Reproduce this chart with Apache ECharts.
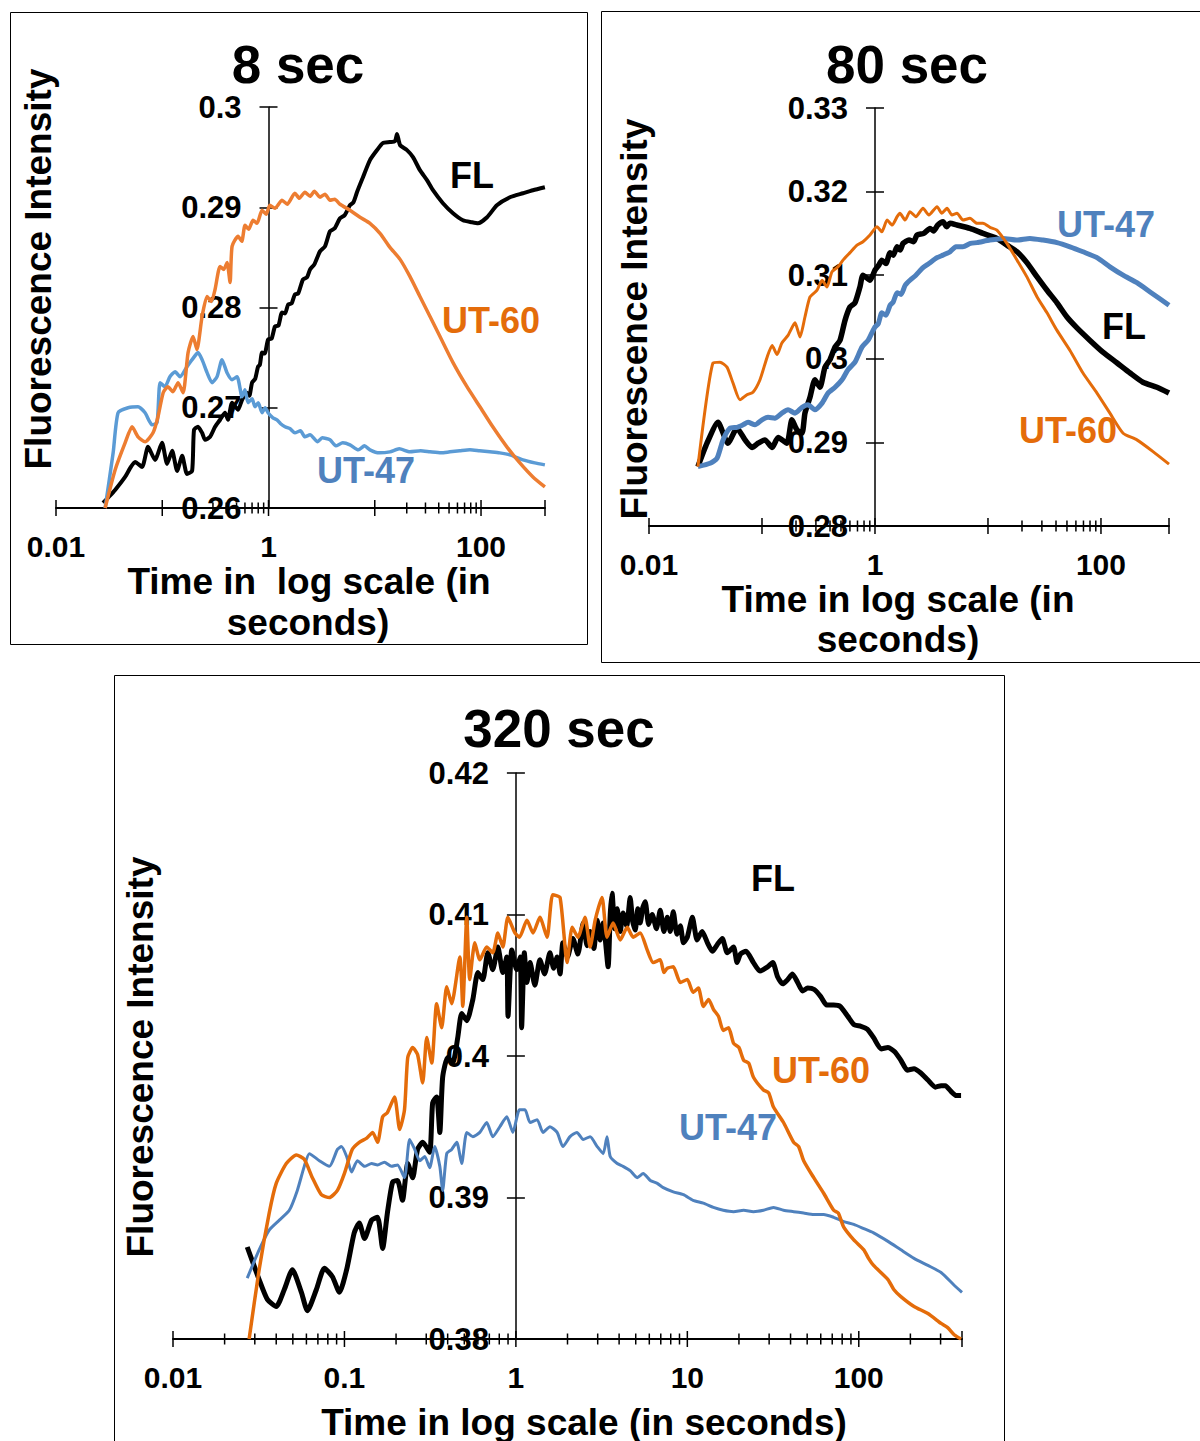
<!DOCTYPE html>
<html>
<head>
<meta charset="utf-8">
<script src="https://cdn.jsdelivr.net/npm/echarts@6/dist/echarts.min.js"></script>
<style>
  html, body { margin: 0; padding: 0; background: #fff; }
  #chart { width: 1200px; height: 1441px; }
</style>
</head>
<body>
<div id="chart"></div>
<script>
// ---- Data: [time (s), fluorescence intensity] ----

// 8 sec
const fl8 = [[0.0277,0.2605],[0.032,0.2612],[0.036,0.2618],[0.0447,0.2631],[0.050,0.2640],[0.0555,0.2646],[0.0646,0.2641],[0.0735,0.2661],[0.0855,0.2648],[0.0995,0.2665],[0.111,0.2644],[0.124,0.2657],[0.138,0.2637],[0.154,0.2652],[0.171,0.2634],[0.191,0.2637],[0.199,0.2678],[0.217,0.2681],[0.237,0.2675],[0.253,0.2668],[0.282,0.2671],[0.314,0.2681],[0.350,0.2688],[0.390,0.2695],[0.416,0.2688],[0.454,0.2705],[0.517,0.2698],[0.564,0.2708],[0.628,0.2715],[0.66,0.2712],[0.70,0.2725],[0.75,0.2729],[0.797,0.2741],[0.83,0.2743],[0.869,0.2755],[0.92,0.2754],[0.99,0.2768],[1.07,0.2769],[1.15,0.2781],[1.24,0.2782],[1.34,0.2795],[1.43,0.2794],[1.53,0.2803],[1.65,0.2804],[1.77,0.2813],[1.9,0.2814],[2.11,0.2828],[2.3,0.2830],[2.46,0.2838],[2.7,0.2843],[3.05,0.2856],[3.4,0.2861],[3.79,0.2876],[4.2,0.2879],[4.71,0.2889],[5.2,0.2892],[5.84,0.2902],[6.3,0.2905],[6.8,0.2915],[7.75,0.2930],[9.01,0.2947],[10.5,0.2957],[11.9,0.2964],[13.9,0.2965],[15.5,0.2966],[16.2,0.2973],[17.3,0.2962],[20.1,0.2957],[22.9,0.2950],[26.6,0.2937],[31.0,0.2927],[35.3,0.2917],[43.8,0.2904],[54.5,0.2894],[67.6,0.2887],[82.1,0.2885],[93.5,0.2884],[114,0.2890],[141,0.2902],[187,0.2910],[248,0.2914],[308,0.2917],[399,0.2920]];
const ut60_8 = [[0.029,0.2600],[0.036,0.2638],[0.0447,0.2665],[0.052,0.2681],[0.0592,0.2671],[0.0689,0.2666],[0.0819,0.2675],[0.0912,0.2691],[0.102,0.2715],[0.113,0.2721],[0.126,0.2716],[0.141,0.2725],[0.157,0.2715],[0.175,0.2755],[0.195,0.2771],[0.212,0.2758],[0.237,0.2791],[0.264,0.2811],[0.29,0.2806],[0.314,0.2818],[0.350,0.2841],[0.38,0.2838],[0.407,0.2845],[0.435,0.2825],[0.454,0.2861],[0.517,0.2871],[0.56,0.2866],[0.601,0.2882],[0.65,0.2878],[0.715,0.2887],[0.78,0.2884],[0.869,0.2897],[0.95,0.2893],[1.03,0.2902],[1.15,0.2899],[1.34,0.2907],[1.5,0.2903],[1.77,0.2914],[1.95,0.2909],[2.20,0.2915],[2.46,0.2911],[2.7,0.2916],[3.05,0.2910],[3.4,0.2913],[3.79,0.2907],[4.2,0.2908],[4.71,0.2903],[5.84,0.2897],[7.26,0.2890],[9.01,0.2884],[11.2,0.2874],[13.9,0.2860],[17.3,0.2848],[21.4,0.2831],[26.6,0.2811],[33.1,0.2791],[41.1,0.2771],[54.5,0.2745],[73.7,0.2721],[97.6,0.2701],[129,0.2681],[175,0.2661],[232,0.2645],[308,0.2631],[399,0.2621]];
const ut47_8 = [[0.029,0.2600],[0.0345,0.2655],[0.0384,0.2695],[0.0477,0.2700],[0.0592,0.2701],[0.0689,0.2695],[0.0802,0.2683],[0.0893,0.2685],[0.0954,0.2725],[0.106,0.2721],[0.118,0.2731],[0.132,0.2736],[0.147,0.2731],[0.171,0.2741],[0.191,0.2748],[0.217,0.2755],[0.237,0.2748],[0.264,0.2735],[0.294,0.2725],[0.328,0.2731],[0.365,0.2748],[0.407,0.2735],[0.454,0.2728],[0.506,0.2731],[0.564,0.2711],[0.60,0.2718],[0.642,0.2705],[0.70,0.2709],[0.746,0.2701],[0.80,0.2705],[0.869,0.2695],[0.93,0.2700],[0.99,0.2695],[1.1,0.2690],[1.20,0.2688],[1.3,0.2684],[1.43,0.2681],[1.6,0.2679],[1.77,0.2675],[2.0,0.2677],[2.20,0.2671],[2.46,0.2673],[2.9,0.2666],[3.2,0.2670],[3.79,0.2668],[4.3,0.2662],[5.0,0.2665],[5.84,0.2663],[7.0,0.2658],[8.0,0.2662],[9.01,0.2658],[11,0.2655],[13.9,0.2656],[17,0.2659],[21.4,0.2656],[27,0.2657],[33.1,0.2656],[42,0.2655],[51,0.2656],[63,0.2657],[78.6,0.2658],[97,0.2657],[121,0.2656],[150,0.2655],[187,0.2653],[248,0.2648],[320,0.2645],[399,0.2643]];

// 80 sec
const fl80 = [[0.0271,0.2871],[0.0326,0.2899],[0.0408,0.2924],[0.050,0.2899],[0.0601,0.2917],[0.0708,0.2903],[0.0816,0.2894],[0.0923,0.2899],[0.106,0.2903],[0.123,0.2894],[0.139,0.2906],[0.166,0.2899],[0.184,0.2927],[0.204,0.2915],[0.226,0.2911],[0.240,0.2935],[0.266,0.2954],[0.294,0.2975],[0.326,0.2966],[0.361,0.2990],[0.400,0.2999],[0.443,0.3014],[0.490,0.3022],[0.543,0.3046],[0.601,0.3062],[0.665,0.3067],[0.736,0.3086],[0.783,0.3100],[0.903,0.3094],[1.0,0.3106],[1.08,0.3112],[1.15,0.3118],[1.25,0.3114],[1.36,0.3127],[1.45,0.3124],[1.57,0.3134],[1.67,0.3130],[1.77,0.3138],[2.0,0.3142],[2.2,0.3140],[2.35,0.3148],[2.7,0.3150],[3.07,0.3156],[3.3,0.3153],[3.6,0.3160],[4.0,0.3164],[4.3,0.3158],[4.6,0.3162],[5.32,0.3160],[6.93,0.3156],[9.03,0.3150],[12.0,0.3144],[14.7,0.3136],[18.1,0.3128],[22.1,0.3115],[27.2,0.3098],[33.3,0.3082],[40.8,0.3067],[50.0,0.3050],[61.3,0.3037],[80.0,0.3022],[104,0.3008],[139,0.2995],[181,0.2983],[235,0.2972],[313,0.2966],[400,0.2959]];
const ut60_80 = [[0.0271,0.2871],[0.0368,0.2995],[0.0425,0.2996],[0.049,0.2990],[0.0554,0.2971],[0.0638,0.2951],[0.0736,0.2957],[0.0832,0.2960],[0.096,0.2975],[0.111,0.3002],[0.123,0.3016],[0.136,0.3005],[0.150,0.3019],[0.170,0.3028],[0.196,0.3043],[0.217,0.3026],[0.240,0.3050],[0.266,0.3074],[0.307,0.3082],[0.340,0.3094],[0.376,0.3086],[0.416,0.3104],[0.471,0.3110],[0.521,0.3118],[0.601,0.3127],[0.693,0.3136],[0.783,0.3140],[0.903,0.3148],[1.04,0.3158],[1.15,0.3152],[1.28,0.3166],[1.42,0.3160],[1.57,0.3170],[1.66,0.3174],[1.85,0.3166],[2.04,0.3176],[2.3,0.3170],[2.66,0.3180],[3.0,0.3172],[3.54,0.3182],[3.9,0.3174],[4.34,0.3180],[4.8,0.3172],[5.32,0.3174],[6.0,0.3166],[6.93,0.3168],[8,0.3162],[9.03,0.3162],[10.5,0.3157],[12.0,0.3154],[14.7,0.3138],[18.1,0.3118],[22.1,0.3098],[27.2,0.3074],[33.3,0.3055],[40.8,0.3034],[53.2,0.3010],[69.3,0.2983],[92.2,0.2959],[120,0.2935],[157,0.2911],[208,0.2903],[289,0.2889],[400,0.2874]];
const ut47_80 = [[0.0271,0.2871],[0.0347,0.2875],[0.040,0.2881],[0.0452,0.2903],[0.0521,0.2917],[0.0601,0.2918],[0.0679,0.2921],[0.0752,0.2924],[0.0867,0.2921],[0.10,0.2927],[0.113,0.2930],[0.130,0.2929],[0.150,0.2935],[0.170,0.2939],[0.196,0.2935],[0.226,0.2942],[0.255,0.2945],[0.294,0.2939],[0.340,0.2947],[0.384,0.2959],[0.443,0.2966],[0.511,0.2975],[0.577,0.2987],[0.665,0.2996],[0.767,0.3014],[0.867,0.3022],[0.93,0.3030],[1.0,0.3038],[1.07,0.3042],[1.15,0.3055],[1.25,0.3052],[1.36,0.3064],[1.45,0.3068],[1.57,0.3079],[1.7,0.3077],[1.85,0.3088],[2.04,0.3094],[2.3,0.3100],[2.66,0.3109],[3.0,0.3114],[3.54,0.3121],[4.0,0.3124],[4.61,0.3128],[5.2,0.3134],[6.01,0.3134],[7.0,0.3138],[8.0,0.3139],[10.4,0.3142],[13.6,0.3144],[18.1,0.3142],[23.5,0.3144],[30.7,0.3142],[40.8,0.3139],[53.2,0.3134],[69.3,0.3128],[92.2,0.3121],[120,0.3110],[157,0.3100],[208,0.3091],[272,0.3080],[400,0.3064]];

// 320 sec
const fl320 = [[0.0271,0.3865],[0.0318,0.3842],[0.0355,0.3828],[0.040,0.3823],[0.0446,0.3835],[0.0497,0.3849],[0.0561,0.3833],[0.0608,0.3820],[0.0686,0.3835],[0.0764,0.3850],[0.0851,0.3844],[0.0935,0.3833],[0.103,0.3849],[0.114,0.3875],[0.122,0.3882],[0.131,0.3871],[0.144,0.3884],[0.156,0.3886],[0.167,0.3864],[0.178,0.3889],[0.191,0.3911],[0.204,0.3912],[0.218,0.3898],[0.234,0.3924],[0.250,0.3914],[0.267,0.3934],[0.286,0.3939],[0.314,0.3932],[0.327,0.3967],[0.345,0.3971],[0.360,0.3946],[0.374,0.3985],[0.400,0.3999],[0.428,0.3995],[0.458,0.4013],[0.483,0.4030],[0.517,0.4025],[0.561,0.4040],[0.600,0.4059],[0.641,0.4054],[0.686,0.4073],[0.733,0.4061],[0.785,0.4077],[0.839,0.4059],[0.885,0.4070],[0.90,0.4028],[0.947,0.4075],[1.01,0.4061],[1.06,0.4070],[1.08,0.4020],[1.12,0.4073],[1.16,0.4052],[1.21,0.4066],[1.29,0.4050],[1.38,0.4068],[1.47,0.4058],[1.58,0.4073],[1.66,0.4062],[1.74,0.4070],[1.81,0.4058],[1.88,0.4080],[2.0,0.4070],[2.15,0.4083],[2.3,0.4072],[2.47,0.4094],[2.6,0.4078],[2.71,0.4088],[2.85,0.4076],[2.98,0.4096],[3.1,0.4082],[3.23,0.4094],[3.45,0.4063],[3.55,0.4100],[3.64,0.4115],[3.77,0.4090],[3.90,0.4104],[4.06,0.4088],[4.22,0.4101],[4.43,0.4092],[4.64,0.4112],[4.8,0.4095],[4.97,0.4089],[5.14,0.4104],[5.31,0.4094],[5.5,0.4105],[5.68,0.4109],[5.95,0.4093],[6.24,0.4100],[6.6,0.4090],[6.95,0.4103],[7.3,0.4088],[7.64,0.4098],[7.95,0.4088],[8.28,0.4102],[8.7,0.4086],[9.10,0.4092],[9.5,0.4080],[10.0,0.4084],[10.7,0.4098],[11.4,0.4082],[12.2,0.4088],[13.1,0.4080],[14.0,0.4074],[15.0,0.4079],[16.0,0.4083],[17.1,0.4073],[18.6,0.4077],[19.5,0.4066],[20.4,0.4072],[22.0,0.4074],[24.3,0.4066],[26.5,0.4060],[29.4,0.4063],[31.5,0.4066],[33.6,0.4056],[36,0.4051],[38.5,0.4054],[41,0.4058],[44.0,0.4052],[47,0.4046],[50.3,0.4048],[55,0.4047],[60.0,0.4042],[65,0.4036],[71.4,0.4036],[78,0.4035],[86.3,0.4028],[94,0.4022],[103,0.4021],[112,0.4019],[122,0.4013],[135,0.4005],[148,0.4006],[162,0.4003],[176,0.3997],[192,0.3990],[210,0.3991],[230,0.3988],[253,0.3983],[280,0.3978],[302,0.3979],[320,0.3979],[345,0.3975],[370,0.3972],[395,0.3972]];
const ut60_320 = [[0.0278,0.3800],[0.0318,0.3849],[0.0364,0.3889],[0.040,0.3910],[0.0458,0.3924],[0.0524,0.3930],[0.0583,0.3927],[0.065,0.3914],[0.0733,0.3902],[0.0817,0.3900],[0.091,0.3905],[0.100,0.3917],[0.111,0.3934],[0.122,0.3939],[0.135,0.3942],[0.146,0.3946],[0.156,0.3939],[0.167,0.3957],[0.178,0.3960],[0.196,0.3971],[0.210,0.3948],[0.224,0.3962],[0.234,0.3999],[0.250,0.4006],[0.267,0.4001],[0.286,0.3981],[0.302,0.4013],[0.323,0.3995],[0.345,0.4037],[0.369,0.4020],[0.395,0.4049],[0.422,0.4037],[0.471,0.4070],[0.490,0.4035],[0.517,0.4098],[0.538,0.4054],[0.576,0.4080],[0.616,0.4068],[0.676,0.4077],[0.733,0.4073],[0.785,0.4087],[0.839,0.4077],[0.898,0.4098],[0.987,0.4087],[1.05,0.4084],[1.16,0.4096],[1.26,0.4087],[1.38,0.4098],[1.52,0.4084],[1.64,0.4114],[1.81,0.4112],[1.99,0.4066],[2.13,0.4091],[2.30,0.4084],[2.53,0.4098],[2.71,0.4077],[2.90,0.4096],[3.18,0.4112],[3.40,0.4084],[3.69,0.4094],[4.06,0.4082],[4.46,0.4091],[4.83,0.4084],[5.31,0.4087],[5.83,0.4075],[6.32,0.4066],[6.95,0.4068],[7.3,0.4059],[7.64,0.4062],[8.28,0.4063],[9.10,0.4052],[10.0,0.4054],[10.8,0.4045],[11.6,0.4048],[12.4,0.4035],[13.3,0.4040],[14.2,0.4033],[15.2,0.4028],[16.2,0.4018],[17.4,0.4020],[18.6,0.4009],[20,0.4006],[21.3,0.3997],[22.8,0.3995],[24.3,0.3985],[27.8,0.3976],[29.8,0.3974],[31.8,0.3964],[36.4,0.3953],[41.7,0.3939],[44.6,0.3936],[47.7,0.3926],[54.6,0.3914],[62.4,0.3903],[71.4,0.3891],[76,0.3889],[81.7,0.3879],[93.5,0.3870],[107,0.3863],[114,0.3857],[122,0.3852],[148,0.3842],[160,0.3835],[176,0.3830],[210,0.3823],[253,0.3818],[302,0.3811],[330,0.3808],[360,0.3803],[395,0.3800]];
const ut47_320 = [[0.0271,0.3843],[0.0318,0.3863],[0.0364,0.3877],[0.0417,0.3884],[0.0477,0.3891],[0.0531,0.3905],[0.0583,0.3922],[0.0624,0.3931],[0.0714,0.3926],[0.0817,0.3922],[0.091,0.3934],[0.096,0.3936],[0.103,0.3929],[0.110,0.3918],[0.119,0.3926],[0.131,0.3922],[0.144,0.3924],[0.156,0.3923],[0.171,0.3925],[0.188,0.3922],[0.204,0.3923],[0.224,0.3914],[0.240,0.3941],[0.257,0.3934],[0.275,0.3926],[0.294,0.3929],[0.314,0.3921],[0.336,0.3936],[0.360,0.3922],[0.374,0.3905],[0.395,0.3931],[0.422,0.3934],[0.452,0.3939],[0.483,0.3924],[0.517,0.3946],[0.561,0.3943],[0.616,0.3946],[0.676,0.3953],[0.733,0.3943],[0.806,0.3950],[0.885,0.3957],[0.960,0.3946],[1.05,0.3962],[1.13,0.3962],[1.21,0.3953],[1.33,0.3955],[1.44,0.3946],[1.58,0.3950],[1.74,0.3946],[1.88,0.3936],[2.07,0.3943],[2.27,0.3946],[2.47,0.3941],[2.71,0.3943],[2.98,0.3936],[3.23,0.3931],[3.40,0.3943],[3.55,0.3929],[3.90,0.3924],[4.22,0.3922],[4.64,0.3919],[5.10,0.3914],[5.53,0.3917],[6.08,0.3912],[6.68,0.3910],[7.24,0.3907],[8.28,0.3904],[9.48,0.3902],[10.8,0.3898],[12.4,0.3896],[14.2,0.3893],[16.2,0.3891],[18.6,0.3890],[21.3,0.3891],[24.3,0.3890],[27.8,0.3891],[31.8,0.3893],[36.4,0.3891],[41.7,0.3890],[47.7,0.3889],[54.6,0.3888],[62.4,0.3888],[71.4,0.3886],[81.7,0.3883],[93.5,0.3881],[107,0.3878],[122,0.3875],[148,0.3869],[176,0.3863],[210,0.3857],[253,0.3852],[302,0.3847],[360,0.3838],[400,0.3833]];

// ---- Axis ticks and labels ----
const xMajorTicks = [0.01, 0.1, 1, 10, 100, 400];
const xMinorTicksShort = [0.2,0.3,0.4,0.5,0.6,0.7,0.8,0.9, 20,30,40,50,60,70,80,90];
const xMinorTicksFull = [0.02,0.03,0.04,0.05,0.06,0.07,0.08,0.09, 0.2,0.3,0.4,0.5,0.6,0.7,0.8,0.9, 2,3,4,5,6,7,8,9, 20,30,40,50,60,70,80,90, 200,300];
const xLabelValuesSparse = [0.01, 1, 100];
const xLabelTextsSparse = ['0.01', '1', '100'];
const xLabelValuesFull = [0.01, 0.1, 1, 10, 100];
const xLabelTextsFull = ['0.01', '0.1', '1', '10', '100'];
const xRange = [0.01, 400];
const yCross = 1;
const yRange8 = [0.26, 0.30];
const yRange80 = [0.28, 0.33];
const yRange320 = [0.38, 0.42];
const seriesNames = ['FL', 'UT-47', 'UT-60'];
const panelTitles = ['8 sec', '80 sec', '320 sec'];

const FONT = '"Liberation Sans", Arial, Helvetica, sans-serif';
const ORANGE_A = '#ED7D31', BLUE_A = '#5B9BD5';
const ORANGE_B = '#E46C0A', BLUE_B = '#4F81BD';

const panels = [
  { grid: {left: 56, top: 107, width: 489, height: 401}, y: yRange8,
    minor: xMinorTicksShort, labVals: xLabelValuesSparse, labTxt: xLabelTextsSparse,
    lines: [ {data: fl8, color: '#000', width: 4},
             {data: ut47_8, color: BLUE_A, width: 3.5},
             {data: ut60_8, color: ORANGE_A, width: 3.5} ] },
  { grid: {left: 649, top: 108, width: 520, height: 418}, y: yRange80,
    minor: xMinorTicksShort, labVals: xLabelValuesSparse, labTxt: xLabelTextsSparse,
    lines: [ {data: fl80, color: '#000', width: 5.5},
             {data: ut47_80, color: BLUE_B, width: 5},
             {data: ut60_80, color: ORANGE_B, width: 3} ] },
  { grid: {left: 173, top: 773, width: 789, height: 566}, y: yRange320,
    minor: xMinorTicksFull, labVals: xLabelValuesFull, labTxt: xLabelTextsFull,
    lines: [ {data: fl320, color: '#000', width: 5},
             {data: ut47_320, color: BLUE_B, width: 3},
             {data: ut60_320, color: ORANGE_B, width: 3.5} ] }
];

// where the value axis crosses the log time axis, measured from the grid's left edge
function crossOffset(g) {
  const lo = Math.log10(xRange[0]), hi = Math.log10(xRange[1]);
  return g.width * (Math.log10(yCross) - lo) / (hi - lo);
}

function txt(text, x, y, size, color, rot, lh) {
  return { type: 'text', x: x, y: y, rotation: rot || 0, z: 50,
    style: { text: text, fill: color || '#000', font: 'bold ' + size + 'px ' + FONT,
             lineHeight: lh || size,
             align: 'center', verticalAlign: 'middle', textAlign: 'center', textVerticalAlign: 'middle' } };
}

const xAxis = [], yAxis = [], series = [];
panels.forEach((p, i) => {
  xAxis.push({ type: 'log', logBase: 10, gridIndex: i, min: xRange[0], max: xRange[1],
    axisLine: { show: true, onZero: false, lineStyle: { color: '#000', width: 2 } },
    axisTick: { show: false }, axisLabel: { show: false }, splitLine: { show: false } });
  const off = -crossOffset(p.grid);
  const yBase = { type: 'value', gridIndex: i, min: p.y[0], max: p.y[1], interval: 0.01,
    position: 'left', offset: off, splitLine: { show: false } };
  yAxis.push(Object.assign({}, yBase, {
    axisLine: { show: true, onZero: false, lineStyle: { color: '#000', width: 1.5 } },
    axisTick: { show: true, inside: false, length: 9, lineStyle: { color: '#000', width: 1.5 } },
    axisLabel: { show: true, margin: 27, fontSize: 31, fontWeight: 'bold', fontFamily: FONT, color: '#000', lineHeight: 26 } }));
  yAxis.push(Object.assign({}, yBase, {
    axisLine: { show: false, onZero: false },
    axisTick: { show: true, inside: true, length: 9, lineStyle: { color: '#000', width: 1.5 } },
    axisLabel: { show: false } }));

  // crossing tick marks on the time axis (major + minor log ticks)
  const tickData = xMajorTicks.map(v => [v, p.y[0], 1]).concat(p.minor.map(v => [v, p.y[0], 0]));
  series.push({ type: 'custom', xAxisIndex: i, yAxisIndex: 2 * i, silent: true, clip: false, z: 3,
    data: tickData,
    renderItem: (params, api) => {
      const c = api.coord([api.value(0), api.value(1)]);
      const h = api.value(2) ? 8 : 5.5;
      return { type: 'line', shape: { x1: c[0], y1: c[1] - h, x2: c[0], y2: c[1] + h },
               style: { stroke: '#000', lineWidth: 1.5 } };
    } });
  // time axis labels
  series.push({ type: 'custom', xAxisIndex: i, yAxisIndex: 2 * i, silent: true, clip: false, z: 3,
    data: p.labVals.map(v => [v, p.y[0]]),
    renderItem: (params, api) => {
      const c = api.coord([api.value(0), api.value(1)]);
      return { type: 'text', x: c[0], y: c[1] + 38,
               style: { text: p.labTxt[params.dataIndex], fill: '#000', font: 'bold 30px ' + FONT,
                        lineHeight: 24,
                        align: 'center', verticalAlign: 'middle', textAlign: 'center', textVerticalAlign: 'middle' } };
    } });
  p.lines.forEach((l, k) => {
    series.push({ name: seriesNames[k], type: 'line', xAxisIndex: i, yAxisIndex: 2 * i,
      data: l.data, showSymbol: false, symbol: 'none', smooth: 0.2, z: 4 + k,
      lineStyle: { color: l.color, width: l.width, join: 'round' } });
  });
});

const graphicEls = [
  { type: 'rect', shape: { x: 10.5, y: 12.5, width: 577, height: 632 }, style: { fill: 'none', stroke: '#000', lineWidth: 1 } },
  { type: 'rect', shape: { x: 601.5, y: 11.5, width: 640, height: 651 }, style: { fill: 'none', stroke: '#000', lineWidth: 1 } },
  { type: 'rect', shape: { x: 114.5, y: 675.5, width: 890, height: 820 }, style: { fill: 'none', stroke: '#000', lineWidth: 1 } },
  // titles
  txt(panelTitles[0], 298, 64, 53),
  txt(panelTitles[1], 907, 64, 53),
  txt(panelTitles[2], 559, 728, 53),
  // value axis titles
  txt('Fluorescence Intensity', 38, 269, 37, '#000', Math.PI / 2),
  txt('Fluorescence Intensity', 634, 319, 37, '#000', Math.PI / 2),
  txt('Fluorescence Intensity', 140, 1057, 37, '#000', Math.PI / 2),
  // time axis titles
  txt('Time in  log scale (in', 309, 581, 37, '#000', 0, 30),
  txt('seconds)', 308, 622, 37, '#000', 0, 30),
  txt('Time in log scale (in', 898, 599, 37, '#000', 0, 30),
  txt('seconds)', 898, 639, 37, '#000', 0, 30),
  txt('Time in log scale (in seconds)', 584, 1422, 37, '#000', 0, 30),
  // curve names
  txt('FL', 472, 175, 36, '#000'),
  txt('UT-60', 491, 320, 36, ORANGE_B),
  txt('UT-47', 366, 470, 36, BLUE_B),
  txt('UT-47', 1106, 224, 36, BLUE_B),
  txt('FL', 1124, 326, 36, '#000'),
  txt('UT-60', 1068, 430, 36, ORANGE_B),
  txt('FL', 773, 878, 36, '#000'),
  txt('UT-60', 821, 1070, 36, ORANGE_B),
  txt('UT-47', 728, 1127, 36, BLUE_B)
];

const option = {
  animation: false,
  backgroundColor: '#fff',
  grid: panels.map(p => Object.assign({ containLabel: false, outerBoundsMode: 'none' }, p.grid)),
  xAxis: xAxis,
  yAxis: yAxis,
  series: series,
  graphic: { elements: graphicEls }
};

const chart = echarts.init(document.getElementById('chart'), null, { renderer: 'svg' });
chart.setOption(option);
</script>
</body>
</html>
